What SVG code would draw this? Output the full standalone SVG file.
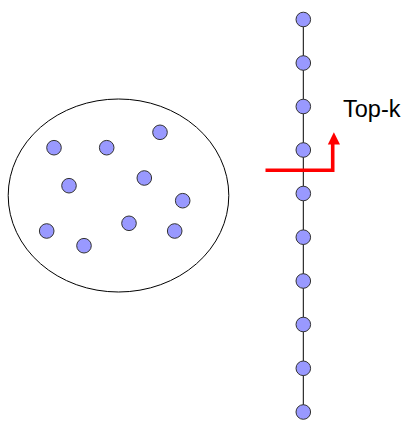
<svg xmlns="http://www.w3.org/2000/svg" width="408" height="422" viewBox="0 0 408 422">
  <style>
    .dot { fill: #9999ff; stroke: #333; stroke-width: 1; }
    .edge { stroke: #000; stroke-width: 1; fill: none; }
    .label { font-family: "Liberation Sans", Arial, sans-serif; font-size: 23.5px; fill: #000; }
  </style>
  <defs>
    <circle id="pt" r="7.3"/>
  </defs>
  <rect width="408" height="422" fill="#fff"/>

  <!-- unordered set -->
  <g id="set">
    <ellipse cx="118.5" cy="195.5" rx="110.3" ry="96.5" fill="none" stroke="#000" stroke-width="1"/>
    <use href="#pt" class="dot" x="54" y="147.7"/>
    <use href="#pt" class="dot" x="106.7" y="147.7"/>
    <use href="#pt" class="dot" x="160" y="132.3"/>
    <use href="#pt" class="dot" x="69" y="185.7"/>
    <use href="#pt" class="dot" x="144.3" y="178"/>
    <use href="#pt" class="dot" x="182.7" y="200.7"/>
    <use href="#pt" class="dot" x="46.7" y="231"/>
    <use href="#pt" class="dot" x="84" y="245.7"/>
    <use href="#pt" class="dot" x="129" y="223.3"/>
    <use href="#pt" class="dot" x="174.7" y="231"/>
  </g>

  <!-- ranked list links -->
  <g id="connectors">
    <line class="edge" x1="303.3" y1="19.5" x2="303.3" y2="411"/>
  </g>

  <!-- ranked list items -->
  <g id="n1"><use href="#pt" class="dot" x="303.3" y="19.5"/></g>
  <g id="n2"><use href="#pt" class="dot" x="303.3" y="63"/></g>
  <g id="n3"><use href="#pt" class="dot" x="303.3" y="106.5"/></g>
  <g id="n4"><use href="#pt" class="dot" x="303.3" y="150"/></g>
  <g id="n5"><use href="#pt" class="dot" x="303.3" y="193.5"/></g>
  <g id="n6"><use href="#pt" class="dot" x="303.3" y="237.2"/></g>
  <g id="n7"><use href="#pt" class="dot" x="303.3" y="281"/></g>
  <g id="n8"><use href="#pt" class="dot" x="303.3" y="324.5"/></g>
  <g id="n9"><use href="#pt" class="dot" x="303.3" y="368.3"/></g>
  <g id="n10"><use href="#pt" class="dot" x="303.3" y="412"/></g>

  <!-- top-k cut marker -->
  <g id="cut">
    <polyline points="265.5,170.3 332.7,170.3 332.7,143" fill="none" stroke="#ff0000" stroke-width="3.6"/>
    <polygon points="327.8,144.5 340,144.5 333.9,132.3" fill="#ff0000"/>
    <text class="label" x="343" y="116.5">Top-k</text>
  </g>
</svg>
